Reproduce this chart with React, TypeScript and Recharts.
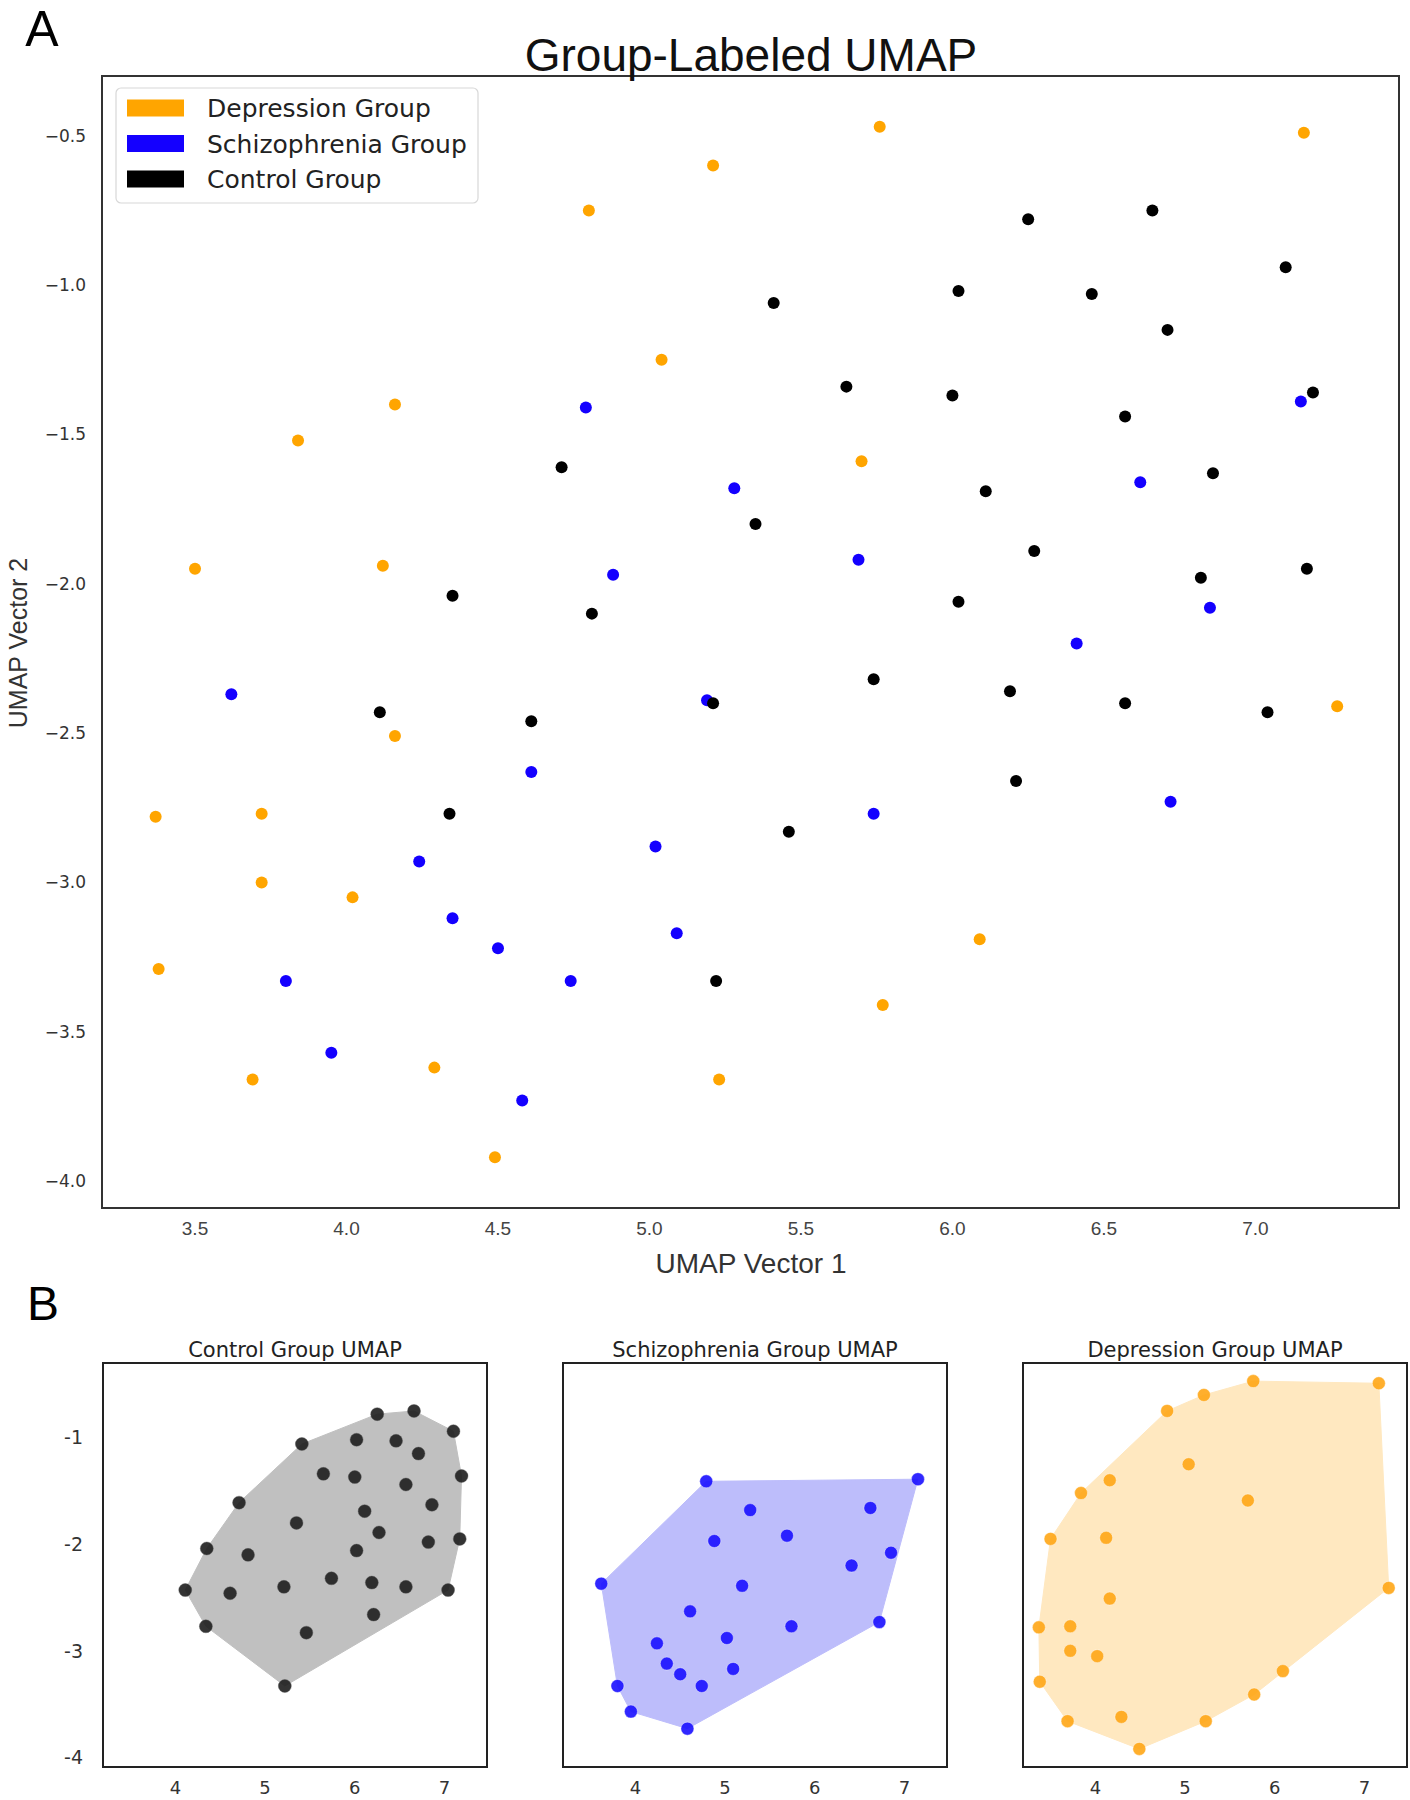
import React from 'react';
import { ScatterChart, Scatter, XAxis, YAxis, ReferenceArea } from 'recharts';

type Pt = { x: number; y: number };

// values: [UMAP 1, UMAP 2]
const depressionPoints: [number, number][] = [
  [5.76, -0.47], [7.16, -0.49], [5.21, -0.6], [4.8, -0.75], [5.04, -1.25],
  [4.16, -1.4], [3.84, -1.52], [5.7, -1.59], [3.5, -1.95], [4.12, -1.94],
  [4.16, -2.51], [7.27, -2.41], [3.37, -2.78], [3.72, -2.77], [3.72, -3.0],
  [4.02, -3.05], [6.09, -3.19], [3.38, -3.29], [5.77, -3.41], [3.69, -3.66],
  [4.29, -3.62], [5.23, -3.66], [4.49, -3.92],
];

const schizophreniaPoints: [number, number][] = [
  [4.79, -1.41], [7.15, -1.39], [5.28, -1.68], [6.62, -1.66], [4.88, -1.97],
  [5.69, -1.92], [6.85, -2.08], [6.41, -2.2], [3.62, -2.37], [5.19, -2.39],
  [4.61, -2.63], [5.74, -2.77], [6.72, -2.73], [5.02, -2.88], [4.24, -2.93],
  [4.35, -3.12], [5.09, -3.17], [4.5, -3.22], [4.74, -3.33], [3.8, -3.33],
  [3.95, -3.57], [4.58, -3.73],
];

const controlPoints: [number, number][] = [
  [6.25, -0.78], [6.66, -0.75], [7.1, -0.94], [5.41, -1.06], [6.02, -1.02],
  [6.46, -1.03], [6.71, -1.15], [5.65, -1.34], [6.0, -1.37], [7.19, -1.36],
  [6.57, -1.44], [4.71, -1.61], [6.86, -1.63], [6.11, -1.69], [5.35, -1.8],
  [6.27, -1.89], [7.17, -1.95], [6.82, -1.98], [4.35, -2.04], [4.81, -2.1],
  [6.02, -2.06], [5.74, -2.32], [6.19, -2.36], [5.21, -2.4], [6.57, -2.4],
  [7.04, -2.43], [4.11, -2.43], [4.61, -2.46], [6.21, -2.66], [4.34, -2.77],
  [5.46, -2.83], [5.22, -3.33],
];

const mainXTicks = [3.5, 4.0, 4.5, 5.0, 5.5, 6.0, 6.5, 7.0];
const mainYTicks = [-4.0, -3.5, -3.0, -2.5, -2.0, -1.5, -1.0, -0.5];
const panelXTicks = [4, 5, 6, 7];
const panelYTicks = [-4, -3, -2, -1];
const xDomain: [number, number] = [3.193, 7.474];
const yDomain: [number, number] = [-4.09, -0.3];

const LIB = "'Liberation Sans', Arial, sans-serif";
const DEJAVU = "'DejaVu Sans', sans-serif";

const toPts = (arr: [number, number][]): Pt[] => arr.map(([x, y]) => ({ x, y }));

// monotone chain hull, closed (first point repeated)
const convexHull = (pts: Pt[]): Pt[] => {
  const s = [...pts].sort((a, b) => a.x - b.x || a.y - b.y);
  const cross = (o: Pt, a: Pt, b: Pt) => (a.x - o.x) * (b.y - o.y) - (a.y - o.y) * (b.x - o.x);
  const lower: Pt[] = [];
  for (const p of s) {
    while (lower.length >= 2 && cross(lower[lower.length - 2], lower[lower.length - 1], p) <= 0) lower.pop();
    lower.push(p);
  }
  const upper: Pt[] = [];
  for (const p of [...s].reverse()) {
    while (upper.length >= 2 && cross(upper[upper.length - 2], upper[upper.length - 1], p) <= 0) upper.pop();
    upper.push(p);
  }
  lower.pop();
  upper.pop();
  const hull = lower.concat(upper);
  return [...hull, hull[0]];
};

const groups = [
  { name: 'Depression Group', title: 'Depression Group UMAP', color: '#FFA500', hull: '#FFE8C0', dot: '#FFA616', points: depressionPoints },
  { name: 'Schizophrenia Group', title: 'Schizophrenia Group UMAP', color: '#1400FF', hull: '#BDBDFB', dot: '#1a10ff', points: schizophreniaPoints },
  { name: 'Control Group', title: 'Control Group UMAP', color: '#000000', hull: '#C0C0C0', dot: '#1e1e1e', points: controlPoints },
];

const panelOrder = [2, 1, 0];
const panelLefts = [103, 563, 1023];

const Panel = ({ g, left, showY }: any) => {
  const pts = toPts(g.points);
  const hull = convexHull(pts);
  return (
    <div style={{ position: 'absolute', left: left - 100, top: 1330 }}>
      <ScatterChart width={494} height={470} margin={{ top: 33, right: 10, bottom: 3, left: showY ? 20 : 100 }}>
        <XAxis type="number" dataKey="x" domain={xDomain} ticks={panelXTicks} allowDataOverflow interval={0}
          tickLine={false} axisLine={false} height={30} tickMargin={8}
          tick={{ fill: '#333', fontSize: 18, fontFamily: DEJAVU }} />
        <YAxis type="number" dataKey="y" domain={yDomain} ticks={panelYTicks} allowDataOverflow interval={0}
          hide={!showY} width={80} tickLine={false} axisLine={false} tickMargin={14}
          tick={{ fill: '#333', fontSize: 19, fontFamily: DEJAVU }} />
        <Scatter data={hull} isAnimationActive={false} lineType="joint"
          line={{ fill: g.hull, stroke: g.hull, strokeWidth: 1 }}
          shape={() => <g />} />
        <Scatter data={pts} isAnimationActive={false}
          shape={(p: any) => (
            <circle cx={p.cx} cy={p.cy} r={6.5} fill={g.dot} fillOpacity={0.9}
              stroke={g.name === 'Control Group' ? '#555' : '#fff'} strokeOpacity={0.4} strokeWidth={1} />
          )} />
        <ReferenceArea x1={xDomain[0]} x2={xDomain[1]} y1={yDomain[0]} y2={yDomain[1]}
          fill="none" stroke="#222" strokeWidth={2} ifOverflow="visible" />
      </ScatterChart>
    </div>
  );
};

const App = () => {
  return (
    <div style={{ position: 'absolute', left: 0, top: 0, width: 1410, height: 1800, background: '#fff', overflow: 'hidden' }}>
      <div style={{ position: 'absolute', left: 0, top: 0 }}>
        <ScatterChart width={1410} height={1300} margin={{ top: 76, right: 11, bottom: 32, left: 12 }}>
          <XAxis type="number" dataKey="x" domain={xDomain} ticks={mainXTicks} allowDataOverflow interval={0}
            tickLine={false} axisLine={false} height={60} tickMargin={8}
            tick={{ fill: '#444', fontSize: 19, fontFamily: LIB }}
            tickFormatter={(v: number) => v.toFixed(1)} />
          <YAxis type="number" dataKey="y" domain={yDomain} ticks={mainYTicks} allowDataOverflow interval={0}
            width={90} tickLine={false} axisLine={false} tickMargin={10}
            tick={{ fill: '#333', fontSize: 17, fontFamily: DEJAVU }}
            tickFormatter={(v: number) => v.toFixed(1).replace('-', '\u2212')} />
          {groups.map((g) => (
            <Scatter key={g.name} name={g.name} data={toPts(g.points)} fill={g.color} isAnimationActive={false}
              shape={(p: any) => <circle cx={p.cx} cy={p.cy} r={6} fill={g.color} />} />
          ))}
          <ReferenceArea x1={xDomain[0]} x2={xDomain[1]} y1={yDomain[0]} y2={yDomain[1]}
            fill="none" stroke="#333" strokeWidth={2} ifOverflow="visible" />
        </ScatterChart>
      </div>

      {panelOrder.map((gi, i) => (
        <Panel key={gi} g={groups[gi]} left={panelLefts[i]} showY={i === 0} />
      ))}

      <svg width={1410} height={1800} style={{ position: 'absolute', left: 0, top: 0, pointerEvents: 'none' }}>
        <text x={42} y={46} textAnchor="middle" fontSize={50} fontFamily={LIB} fill="#000">A</text>
        <text x={43} y={1320} textAnchor="middle" fontSize={48} fontFamily={LIB} fill="#000">B</text>
        <text x={751} y={71} textAnchor="middle" fontSize={46} fontFamily={LIB} fill="#111">Group-Labeled UMAP</text>
        <text x={751} y={1273} textAnchor="middle" fontSize={28} fontFamily={LIB} fill="#333">UMAP Vector 1</text>
        <text x={27} y={643} textAnchor="middle" fontSize={25} fontFamily={LIB} fill="#333"
          transform="rotate(-90, 27, 643)">UMAP Vector 2</text>

        <rect x={116} y={88} width={362} height={115} rx={5} fill="#fff" fillOpacity={0.85} stroke="#d8d8d8" strokeWidth={1.2} />
        {groups.map((g, i) => (
          <g key={g.name}>
            <rect x={127} y={99.5 + i * 35.5} width={57} height={17} fill={g.color} />
            <text x={207} y={117 + i * 35.5} fontSize={25} fontFamily={DEJAVU} fill="#222">{g.name}</text>
          </g>
        ))}

        {panelOrder.map((gi, i) => (
          <text key={gi} x={panelLefts[i] + 192} y={1357} textAnchor="middle" fontSize={21} fontFamily={DEJAVU} fill="#222">
            {groups[gi].title}
          </text>
        ))}
      </svg>
    </div>
  );
};

export default App;
